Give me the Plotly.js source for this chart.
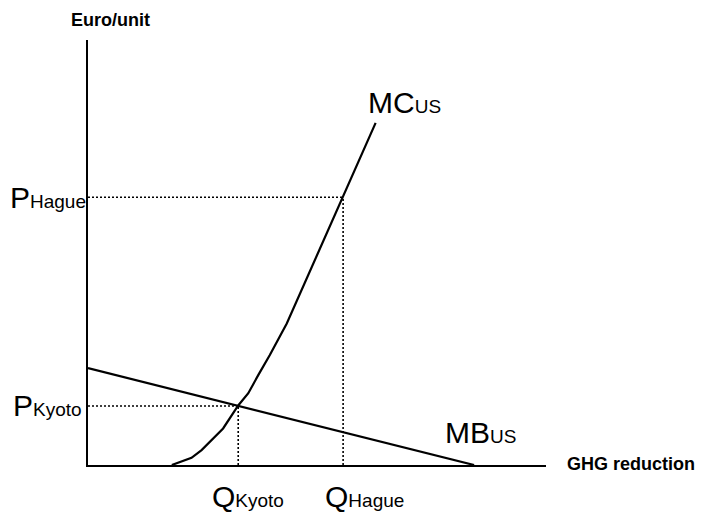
<!DOCTYPE html>
<html>
<head>
<meta charset="utf-8">
<script src="https://cdn.plot.ly/plotly-3.0.1.min.js"></script>
<style>html,body{margin:0;padding:0;background:#fff;}#chart{width:701px;height:515px;}</style>
</head>
<body>
<div id="chart"></div>
<script>
// Marginal cost curve of the US (GHG reduction vs Euro/unit)
const mcX = [18.3, 22.6, 24.8, 29.5, 32.8, 35.0, 37.2, 39.7, 43.4, 46.3, 55.7, 62.8];
const mcY = [0.0, 1.7, 3.5, 8.6, 14.0, 16.9, 21.2, 25.9, 33.3, 40.4, 63.0, 80.5];
// Marginal benefit line of the US
const mbX = [0, 84.3];
const mbY = [22.8, 0];
// Equilibrium points
const qKyoto = 32.8, pKyoto = 13.9;
const qHague = 55.7, pHague = 63.0;
// Labels
const yAxisLabel = "Euro/unit";
const xAxisLabel = "GHG reduction";
const pKyotoLabel = ["P", "Kyoto"];
const pHagueLabel = ["P", "Hague"];
const qKyotoLabel = ["Q", "Kyoto"];
const qHagueLabel = ["Q", "Hague"];
const mcLabel = ["MC", "US"];
const mbLabel = ["MB", "US"];

const FONT = "Liberation Sans, Arial, sans-serif";
function lab(parts) {
  return '<span style="font-size:30px">' + parts[0] + '</span><span style="font-size:19px">' + parts[1] + '</span>';
}
const solid = {color: "#000", width: 2.2};
const dotted = {color: "#000", width: 1.6, dash: "2px,2px"};

const traces = [
  {x: [0, qHague], y: [pHague, pHague], mode: "lines", line: dotted, hoverinfo: "skip"},
  {x: [qHague, qHague], y: [0, pHague], mode: "lines", line: dotted, hoverinfo: "skip"},
  {x: [0, qKyoto], y: [pKyoto, pKyoto], mode: "lines", line: dotted, hoverinfo: "skip"},
  {x: [qKyoto, qKyoto], y: [0, pKyoto], mode: "lines", line: dotted, hoverinfo: "skip"},
  {x: mbX, y: mbY, mode: "lines", line: solid, hoverinfo: "skip"},
  {x: mcX, y: mcY, mode: "lines", line: solid, hoverinfo: "skip"}
];

const ann = (o) => Object.assign({showarrow: false, font: {family: FONT, color: "#000", size: 18}}, o);

const layout = {
  width: 701, height: 515,
  margin: {l: 88, r: 155, t: 40, b: 50, pad: 0},
  paper_bgcolor: "#fff", plot_bgcolor: "#fff",
  showlegend: false,
  font: {family: FONT, color: "#000"},
  xaxis: {range: [0, 100], showline: true, linecolor: "#000", linewidth: 2, showgrid: false, zeroline: false, showticklabels: false, ticks: "", fixedrange: true},
  yaxis: {range: [0, 100], showline: true, linecolor: "#000", linewidth: 2, showgrid: false, zeroline: false, showticklabels: false, ticks: "", fixedrange: true},
  annotations: [
    ann({xref: "paper", yref: "paper", x: 0.050, y: 1.046, xanchor: "center", yanchor: "middle", text: "<b>" + yAxisLabel + "</b>"}),
    ann({xref: "paper", yref: "paper", x: 1.0415, y: 0.0035, xanchor: "left", yanchor: "middle", text: "<b>" + xAxisLabel + "</b>"}),
    ann({xref: "paper", yref: "y", x: -0.1747, y: pHague, xanchor: "left", yanchor: "middle", text: lab(pHagueLabel)}),
    ann({xref: "paper", yref: "y", x: -0.168, y: pKyoto, xanchor: "left", yanchor: "middle", text: lab(pKyotoLabel)}),
    ann({xref: "x", yref: "paper", x: qKyoto, xshift: 10, y: -0.075, xanchor: "center", yanchor: "middle", text: lab(qKyotoLabel)}),
    ann({xref: "x", yref: "paper", x: qHague, xshift: 21, y: -0.075, xanchor: "center", yanchor: "middle", text: lab(qHagueLabel)}),
    ann({xref: "paper", yref: "paper", x: 0.691, y: 0.852, xanchor: "center", yanchor: "middle", text: lab(mcLabel)}),
    ann({xref: "paper", yref: "paper", x: 0.856, y: 0.0776, xanchor: "center", yanchor: "middle", text: lab(mbLabel)})
  ]
};

Plotly.newPlot("chart", traces, layout, {staticPlot: true, displayModeBar: false});
</script>
</body>
</html>
